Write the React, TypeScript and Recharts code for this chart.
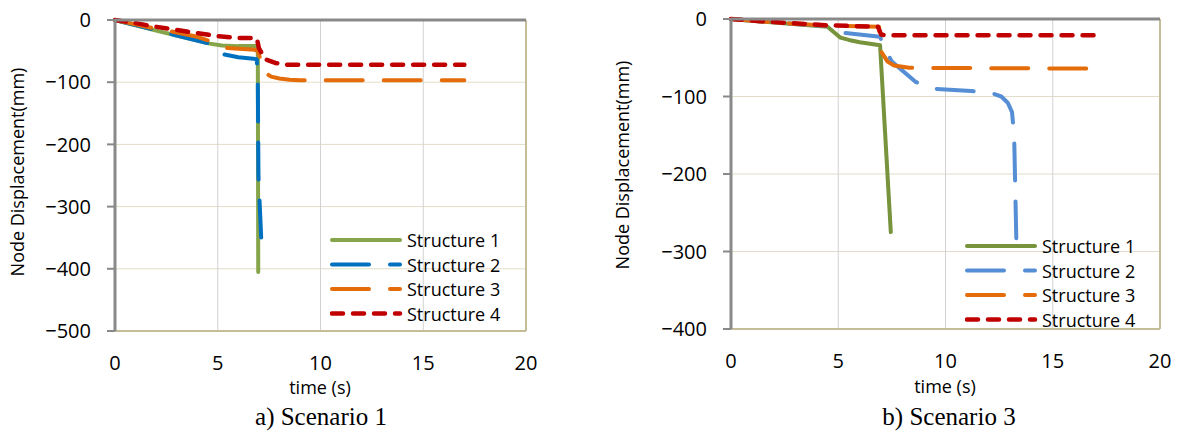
import React from 'react';
import { LineChart, Line, XAxis, YAxis, CartesianGrid, ReferenceLine, Legend } from 'recharts';

const xTicks = [0, 5, 10, 15, 20];
const yTicksA = [0, -100, -200, -300, -400, -500];
const yTicksB = [0, -100, -200, -300, -400];
const names = ['Structure 1', 'Structure 2', 'Structure 3', 'Structure 4'];

// a) Scenario 1
const a1Time = [0, 1, 2, 3, 4, 4.6, 5.2, 6, 6.95, 6.97];
const a1Disp = [0, -8.5, -17, -25, -33, -38, -41, -42, -42, -405];
const a2Time = [0, 1, 2, 3, 4, 4.5, 5.25, 6, 6.9, 6.95, 6.98, 7.12];
const a2Disp = [0, -8, -16, -25, -33, -37, -55, -60, -63, -100, -250, -355];
const a3Time = [0, 1, 2, 3, 4, 5, 5.4, 6.8, 6.95, 7.3, 7.6, 8, 8.5, 9, 17];
const a3Disp = [0, -7, -14, -20, -27, -38, -45, -48, -50, -85, -91, -94, -96, -97, -97];
const a4Time = [0, 1, 2, 3, 4, 5, 6, 6.9, 7.0, 7.3, 7.8, 8.4, 17];
const a4Disp = [0, -5, -11, -16, -21, -26, -29, -29, -45, -63, -69, -72, -72];

// b) Scenario 3
const b1Time = [0, 2, 4.5, 4.8, 5.1, 5.5, 6, 6.95, 7.45];
const b1Disp = [0, -4.5, -10, -17, -24, -27, -30, -34, -275];
const b2Time = [0, 2, 4.4, 5.3, 6.95, 7.1, 7.5, 8.6, 9.4, 11.2, 12.2, 12.6, 12.9, 13.1, 13.2, 13.3];
const b2Disp = [0, -4.5, -9, -18, -23, -35, -55, -81, -90, -93, -96, -100, -108, -120, -150, -283];
const b3Time = [0, 2, 4.4, 6.9, 7.0, 7.3, 7.6, 8.3, 16.7];
const b3Disp = [0, -4.5, -8.5, -10, -42, -55, -60, -63, -64];
const b4Time = [0, 2, 4.4, 6.85, 7.0, 7.2, 17.1];
const b4Disp = [0, -4, -8, -10, -20, -21, -21];

const pts = (t: number[], d: number[]) => t.map((x, i) => ({ t: x, d: d[i] }));

const LONG = '37 21';
const SHORT = '11 10';

type Series = { name: string; data: { t: number; d: number }[]; color: string; width: number; dash?: string };

const seriesA: Series[] = [
  { name: names[0], data: pts(a1Time, a1Disp), color: '#86A44A', width: 4 },
  { name: names[1], data: pts(a2Time, a2Disp), color: '#0070C0', width: 4, dash: LONG },
  { name: names[2], data: pts(a3Time, a3Disp), color: '#E46C0A', width: 4, dash: LONG },
  { name: names[3], data: pts(a4Time, a4Disp), color: '#C00000', width: 4.5, dash: SHORT },
];

const seriesB: Series[] = [
  { name: names[0], data: pts(b1Time, b1Disp), color: '#77933C', width: 4 },
  { name: names[1], data: pts(b2Time, b2Disp), color: '#558ED5', width: 4, dash: LONG },
  { name: names[2], data: pts(b3Time, b3Disp), color: '#E46C0A', width: 4, dash: LONG },
  { name: names[3], data: pts(b4Time, b4Disp), color: '#C00000', width: 4.5, dash: SHORT },
];

const axisGray = '#898989';
const tan = '#C4BD97';

// excel shows a long minus sign
const fmtY = (v: number) => String(v).replace('-', '\u2212');

const legendBox = (series: Series[]) => () => (
  <svg width={200} height={100}>
    {series.map((s, i) => (
      <g key={s.name}>
        <line
          x1={2}
          x2={70}
          y1={12 + i * 24.5}
          y2={12 + i * 24.5}
          stroke={s.color}
          strokeWidth={s.width}
          strokeDasharray={s.dash}
          strokeLinecap="round"
        />
        <text x={77} y={12 + i * 24.5} dominantBaseline="central" fontSize={18} fill="#000">
          {s.name}
        </text>
      </g>
    ))}
  </svg>
);

interface PanelProps {
  left: number;
  width: number;
  margin: { top: number; right: number; bottom: number; left: number };
  yDomain: [number, number];
  yTicks: number[];
  series: Series[];
  legendLeft: number;
  legendTop: number;
}

const Panel = ({ left, width, margin, yDomain, yTicks, series, legendLeft, legendTop }: PanelProps) => (
  <div style={{ position: 'absolute', left, top: 0 }}>
    <LineChart width={width} height={432} margin={margin}>
      <CartesianGrid vertical={false} stroke="#E2DDC9" />
      <CartesianGrid horizontal={false} stroke="#D2D2D2" />
      <XAxis
        dataKey="t"
        type="number"
        domain={[0, 20]}
        ticks={xTicks}
        interval={0}
        height={30}
        axisLine={{ stroke: tan, strokeWidth: 2 }}
        tickLine={false}
        tickSize={20}
        tickMargin={5}
        tick={{ fill: '#000', fontSize: 20 }}
      />
      <XAxis
        xAxisId="top"
        orientation="top"
        mirror
        type="number"
        domain={[0, 20]}
        ticks={xTicks}
        interval={0}
        height={1}
        tick={false}
        axisLine={{ stroke: axisGray, strokeWidth: 3 }}
        tickLine={{ stroke: axisGray, strokeWidth: 3 }}
        tickSize={6}
      />
      <YAxis
        type="number"
        domain={yDomain}
        ticks={yTicks}
        interval={0}
        width={60}
        axisLine={{ stroke: axisGray, strokeWidth: 3 }}
        tickLine={{ stroke: axisGray, strokeWidth: 2 }}
        tickSize={8}
        tickMargin={16}
        tickFormatter={fmtY}
        tick={{ fill: '#000', fontSize: 20 }}
      />
      <ReferenceLine x={20} stroke={tan} strokeWidth={2} />
      {series.map((s) => (
        <Line
          key={s.name}
          name={s.name}
          data={s.data}
          dataKey="d"
          type="linear"
          stroke={s.color}
          strokeWidth={s.width}
          strokeDasharray={s.dash}
          strokeLinecap="round"
          strokeLinejoin="round"
          dot={false}
          activeDot={false}
          isAnimationActive={false}
        />
      ))}
      <Legend
        layout="vertical"
        align="center"
        verticalAlign="middle"
        content={legendBox(series)}
        wrapperStyle={{ left: legendLeft, top: legendTop, width: 200, height: 100 }}
      />
    </LineChart>
  </div>
);

export default function App() {
  return (
    <div
      style={{
        position: 'absolute',
        left: 0,
        top: 0,
        width: 1179,
        height: 432,
        background: '#fff',
        overflow: 'hidden',
        fontFamily: '"Open Sans", sans-serif',
      }}
    >
      <Panel
        left={0}
        width={590}
        margin={{ top: 20, right: 64, bottom: 71, left: 55 }}
        yDomain={[-500, 0]}
        yTicks={yTicksA}
        series={seriesA}
        legendLeft={330}
        legendTop={228}
      />
      <Panel
        left={590}
        width={589}
        margin={{ top: 19, right: 19, bottom: 73, left: 81 }}
        yDomain={[-400, 0]}
        yTicks={yTicksB}
        series={seriesB}
        legendLeft={375}
        legendTop={234}
      />
      <svg width={1179} height={432} style={{ position: 'absolute', left: 0, top: 0, pointerEvents: 'none' }}>
        <g fontFamily='"Open Sans", sans-serif' fontSize={18} fill="#000" textAnchor="middle">
          <text transform="translate(24,172) rotate(-90)">Node Displacement(mm)</text>
          <text transform="translate(629,165) rotate(-90)">Node Displacement(mm)</text>
          <text x={320} y={394}>time (s)</text>
          <text x={945} y={393}>time (s)</text>
        </g>
        <g fontFamily='"Liberation Serif", "Times New Roman", serif' fontSize={25} fill="#000" textAnchor="middle">
          <text x={321} y={425}>a) Scenario 1</text>
          <text x={949} y={425}>b) Scenario 3</text>
        </g>
      </svg>
    </div>
  );
}
